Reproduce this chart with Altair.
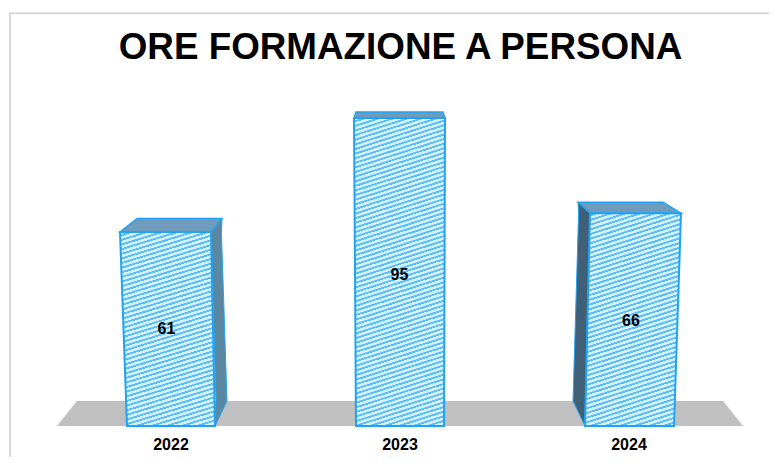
import altair as alt
import pandas as pd

# ---- chart values ----
YEARS = ["2022", "2023", "2024"]
HOURS = [61, 95, 66]
TITLE = "ORE FORMAZIONE A PERSONA"

# ---- box layout: corner positions on the page-wide x scale ----
FRONT_TOP_L = [120, 354, 590]
FRONT_TOP_R = [211, 445, 681]
FRONT_BOT_L = [127, 356, 585]
FRONT_BOT_R = [215, 444, 674]
BACK_TOP_L = [137, 356, 578]
BACK_TOP_R = [222, 443, 663]
BACK_BOT_X = [227, 443, 573]
DEPTH_TOP = [3.6, 1.8, 3.4]
BACK_FLOOR = 7.86
LABEL_X = [166.5, 399.5, 631]
YEAR_X = [171, 400, 629]
YEAR_Y = -6
SIDE_COLOR = ["#5a88a3", None, "#3f6076"]
TOP_COLOR = "#6f9cbd"
EDGE = "#22a3f2"

x_scale = alt.Scale(domain=[8, 769], range=[0, 761], nice=False, zero=False)
y_scale = alt.Scale(domain=[-9.75, 0, 61, 66, 95, 128.5],
                    range=[449, 418, 224, 205.3, 110, 0], nice=False, zero=False)
X = alt.X("x:Q", scale=x_scale, axis=None)
X2 = alt.X2("x2:Q")
Y = alt.Y("y:Q", scale=y_scale, axis=None)


def stripes(width, height, period=4.6, slope=0.32):
    total = height + slope * width
    count = int(total / period)
    stops = []
    for k in range(count):
        a, b, c = k / count, (k + 0.58) / count, (k + 1) / count
        stops += [alt.GradientStop(offset=a, color="#d2f1ff"),
                  alt.GradientStop(offset=b - 0.001, color="#d2f1ff"),
                  alt.GradientStop(offset=b + 0.001, color="#5cbcf7"),
                  alt.GradientStop(offset=c, color="#5cbcf7")]
    dx, dy = slope / height, 1 / width
    scale = (dx + dy) / (dx * dx + dy * dy)
    return alt.Gradient(gradient="linear", stops=stops, x1=0, y1=0,
                        x2=dx * scale, y2=dy * scale)


def quad(rows, **mark):
    frame = pd.DataFrame(rows, columns=["y", "x", "x2"])
    return alt.Chart(frame).mark_area(orient="horizontal", **mark).encode(y=Y, x=X, x2=X2)


layers = []

# window frame
frame_df = pd.DataFrame({"x": [10, 10, 769], "y": [-9.75, 126.9, 126.9], "o": [0, 1, 2]})
layers.append(alt.Chart(frame_df).mark_line(color="#d9d9d9", strokeWidth=2).encode(
    x=X, y=Y, order="o:Q"))

# floor
layers.append(quad([[0, 57, 743], [BACK_FLOOR, 77, 723]], color="#c0c0c0"))

for i, v in enumerate(HOURS):
    top = v + DEPTH_TOP[i]
    # side face
    if i == 0:
        layers.append(quad([[0, FRONT_BOT_R[i], FRONT_BOT_R[i]],
                            [BACK_FLOOR, FRONT_BOT_R[i] + 1, BACK_BOT_X[i]],
                            [v, FRONT_TOP_R[i], BACK_TOP_R[i] - 0.6],
                            [top, BACK_TOP_R[i], BACK_TOP_R[i]]],
                           color=SIDE_COLOR[i], stroke=EDGE, strokeWidth=1))
    if i == 2:
        layers.append(quad([[0, FRONT_BOT_L[i], FRONT_BOT_L[i]],
                            [BACK_FLOOR, BACK_BOT_X[i], FRONT_BOT_L[i] + 0.5],
                            [v, BACK_TOP_L[i] + 0.6, FRONT_TOP_L[i]],
                            [top, BACK_TOP_L[i], BACK_TOP_L[i]]],
                           color=SIDE_COLOR[i], stroke=EDGE, strokeWidth=1))
    # top face
    layers.append(quad([[v, FRONT_TOP_L[i], FRONT_TOP_R[i]],
                        [top, BACK_TOP_L[i], BACK_TOP_R[i]]],
                       color=TOP_COLOR, stroke=EDGE, strokeWidth=1.5))
    # front face
    w = FRONT_TOP_R[i] - min(FRONT_TOP_L[i], FRONT_BOT_L[i])
    h = {61: 194, 95: 308, 66: 213}[v]
    layers.append(quad([[0, FRONT_BOT_L[i], FRONT_BOT_R[i]],
                        [v, FRONT_TOP_L[i], FRONT_TOP_R[i]]],
                       color=stripes(w, h), stroke=EDGE, strokeWidth=2))

# value labels
labels = pd.DataFrame({"x": LABEL_X, "y": [v / 2 for v in HOURS], "t": [str(v) for v in HOURS]})
layers.append(alt.Chart(labels).mark_text(font="Liberation Sans", fontWeight="bold", fontSize=16,
                                          color="#000000", baseline="middle").encode(x=X, y=Y, text="t:N"))
# category labels
years = pd.DataFrame({"x": YEAR_X, "y": [YEAR_Y] * 3, "t": YEARS})
layers.append(alt.Chart(years).mark_text(font="Liberation Sans", fontWeight="bold", fontSize=16,
                                         color="#000000", baseline="middle").encode(x=X, y=Y, text="t:N"))

chart = alt.layer(*layers).properties(
    width=761, height=449, padding=0,
    autosize=alt.AutoSizeParams(type="none"),
    background="#ffffff",
    title=alt.Title(TITLE, font="Liberation Sans", fontWeight="bold", fontSize=36.8,
                    color="#000000", anchor="middle", dx=12, dy=92, baseline="alphabetic"),
).configure_view(stroke=None)

chart.save("out.html", embed_options={"renderer": "svg", "actions": False})
